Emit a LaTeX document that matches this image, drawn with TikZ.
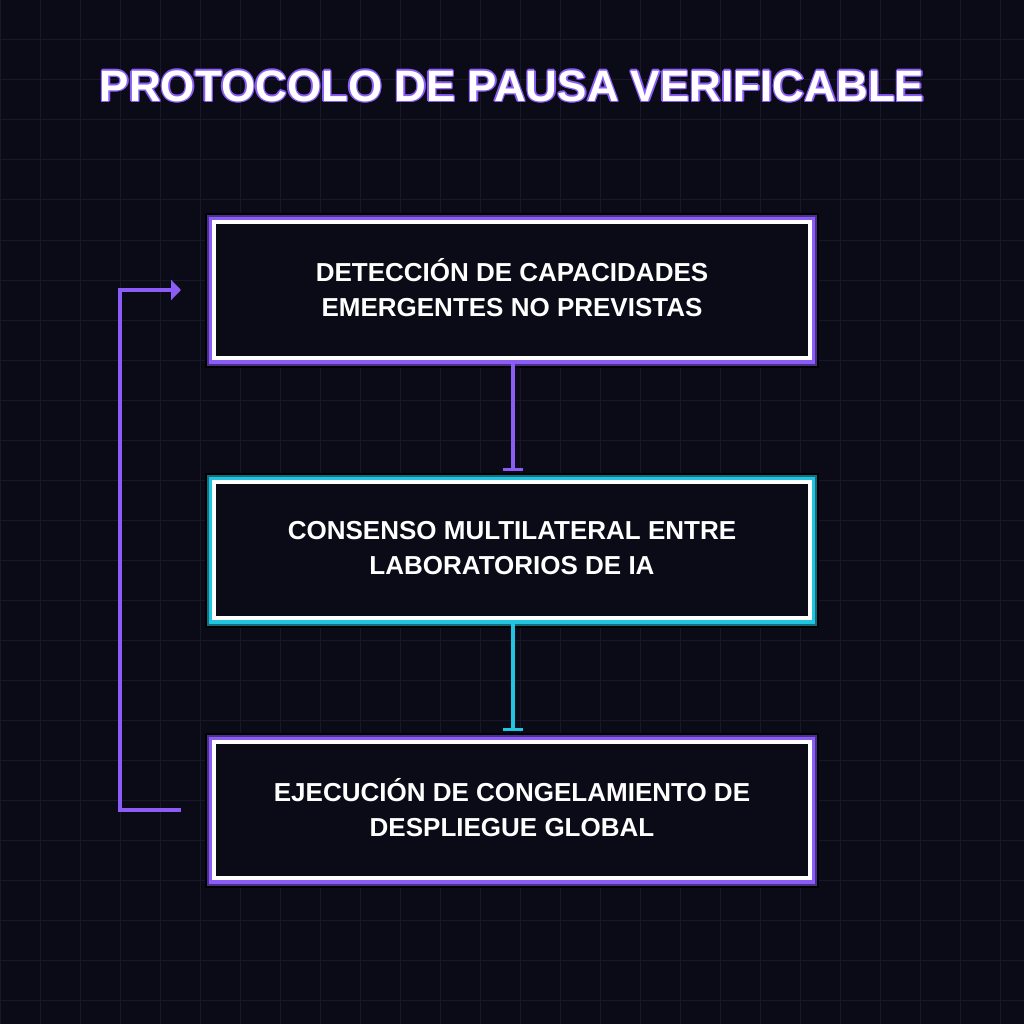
\documentclass[tikz,border=0pt]{standalone}
\usepackage{fontspec}
\setmainfont{Liberation Sans}
\usetikzlibrary{arrows.meta}
\definecolor{bg}{HTML}{0B0B18}
\definecolor{gridc}{HTML}{181828}
\definecolor{purp}{HTML}{8B5CF6}
\definecolor{purpd}{HTML}{4C2F8F}
\definecolor{cyn}{HTML}{22C5E0}
\definecolor{cynd}{HTML}{136F7F}
\tikzset{x=1pt,y=-1pt,
 boxtxt/.style={text=white,font=\bfseries\fontsize{26}{35}\selectfont,align=center},
 ttl/.style={font=\bfseries\fontsize{44}{50}\selectfont},
 inner/.style={draw=white,line width=4pt,fill=bg},
 conn/.style={line width=3.5pt},
 tbar/.style={line width=3.5pt,-{Bar[width=20pt]}},
}
\begin{document}
\begin{tikzpicture}
\fill[bg] (0,0) rectangle (1024,1024);
\useasboundingbox (0,0) rectangle (1024,1024);
\foreach \i in {0,40,...,1000}{
 \draw[gridc,line width=1pt] (\i,0) -- (\i,1024);
 \draw[gridc,line width=1pt] (0,\i) -- (1024,\i);}
% title
\foreach \dx/\dy in {-1.5/0,1.5/0,0/-1.5,0/1.5,-1/-1,1/1,-1/1,1/-1}
 \node[text=purp,ttl] at (512+\dx,86+\dy) {PROTOCOLO DE PAUSA VERIFICABLE};
\node[text=white,ttl] (title) at (512,86) {PROTOCOLO DE PAUSA VERIFICABLE};
% boxes
\foreach \y/\c/\d in {213/purp/purpd,473/cyn/cynd,733/purp/purpd}{
 \fill[black] (205,\y) rectangle (819,\y+155);
 \fill[\d] (207,\y+2) rectangle (817,\y+153);
 \fill[\c] (209,\y+4) rectangle (815,\y+151);
 \draw[inner] (214,\y+9) rectangle (810,\y+145);
}
\node[boxtxt] (b1) at (512,288) {DETECCIÓN DE CAPACIDADES\\EMERGENTES NO PREVISTAS};
\node[boxtxt] (b2) at (512,548) {CONSENSO MULTILATERAL ENTRE\\LABORATORIOS DE IA};
\node[boxtxt] (b3) at (512,808) {EJECUCIÓN DE CONGELAMIENTO DE\\DESPLIEGUE GLOBAL};
\coordinate (b1b) at (513,360);
\coordinate (b2t) at (513,471);
\coordinate (b2b) at (513,620);
\coordinate (b3t) at (513,731);
\draw[conn,purp,tbar] (b1b) -- (b2t);
\draw[conn,cyn,tbar] (b2b) -- (b3t);
\coordinate (l1) at (181,810);
\coordinate (l2) at (120,810);
\coordinate (l3) at (120,290);
\coordinate (l4) at (181,290);
\draw[conn,purp,-{Triangle[length=10pt,width=20pt]}] (l1) -- (l2) -- (l3) -- (l4);
\end{tikzpicture}
\end{document}
